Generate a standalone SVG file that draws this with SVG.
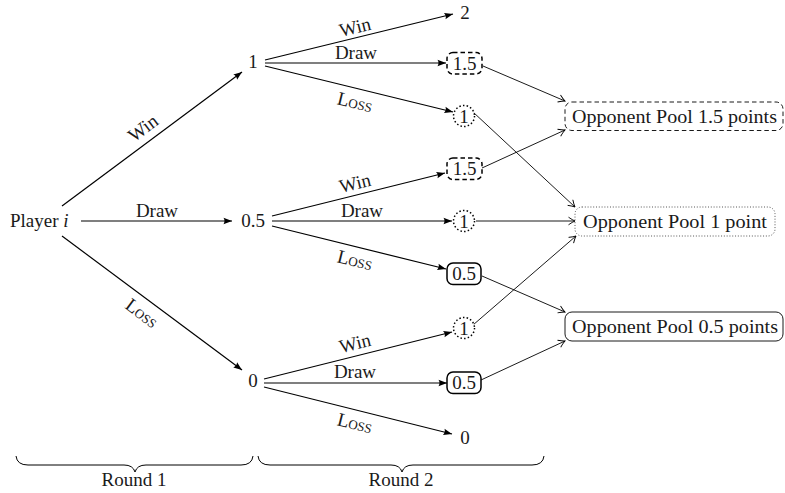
<svg xmlns="http://www.w3.org/2000/svg" width="785" height="493" viewBox="0 0 785 493">
<style>
.mid{text-anchor:middle}
.sc{font-variant:small-caps}
.tree{stroke:#000;stroke-width:1.2;fill:none;marker-end:url(#tri)}
.pool{stroke:#000;stroke-width:0.9;fill:none;marker-end:url(#to)}
.dash{stroke:#000;stroke-width:1.5;fill:#fff;stroke-dasharray:4.5 3}
.dot{stroke:#000;stroke-width:1.5;fill:#fff;stroke-dasharray:1.5 2.2}
.solid{stroke:#000;stroke-width:1.5;fill:#fff}
.pdash{stroke:#000;stroke-width:0.9;fill:#fff;stroke-dasharray:4.5 3}
.pdot{stroke:#444;stroke-width:0.9;fill:#fff;stroke-dasharray:1 1.8}
.psolid{stroke:#000;stroke-width:0.9;fill:#fff}
.brace{stroke:#000;stroke-width:1;fill:none}
</style>
<defs>
<marker id="tri" viewBox="-9 -4 10 8" refX="0" refY="0" markerWidth="10" markerHeight="8" markerUnits="userSpaceOnUse" orient="auto">
<path d="M0,0 L-8.5,-3.2 Q-6.5,0 -8.5,3.2 Z" fill="#000"/>
</marker>
<marker id="to" viewBox="-8 -5 9 10" refX="0" refY="0" markerWidth="9" markerHeight="10" markerUnits="userSpaceOnUse" orient="auto">
<path d="M-6.5,-3.8 Q-2.5,-1 0,0 Q-2.5,1 -6.5,3.8" fill="none" stroke="#000" stroke-width="0.9"/>
</marker>
</defs>

<g id="connectors">
<line class="tree" x1="62" y1="206" x2="242" y2="72"/>
<line class="tree" x1="81" y1="221" x2="232" y2="221"/>
<line class="tree" x1="62" y1="236" x2="242" y2="370"/>

<line class="tree" x1="265" y1="60" x2="453" y2="14"/>
<line class="tree" x1="265" y1="63" x2="446" y2="63"/>
<line class="tree" x1="265" y1="66" x2="453" y2="112"/>

<line class="tree" x1="272" y1="216" x2="445" y2="173"/>
<line class="tree" x1="272" y1="221" x2="452" y2="221"/>
<line class="tree" x1="272" y1="226" x2="446" y2="269"/>

<line class="tree" x1="264" y1="379" x2="452" y2="332"/>
<line class="tree" x1="264" y1="383" x2="447" y2="383"/>
<line class="tree" x1="264" y1="387" x2="452" y2="434"/>

<line class="pool" x1="483" y1="66" x2="565" y2="101"/>
<line class="pool" x1="482" y1="168" x2="565" y2="130"/>
<line class="pool" x1="473" y1="112" x2="575" y2="207"/>
<line class="pool" x1="476" y1="221" x2="575" y2="221"/>
<line class="pool" x1="482" y1="276" x2="565" y2="312"/>
<line class="pool" x1="473" y1="325" x2="576" y2="236"/>
<line class="pool" x1="481" y1="380" x2="565" y2="341"/>
</g>

<g id="edge-labels">
<g transform="translate(143,128) rotate(-36.7)"><text class="mid" font-family="Liberation Serif" font-size="19" fill="#1a1a1a" x="0" y="6.5">Win</text></g>
<text class="mid" font-family="Liberation Serif" font-size="19" fill="#1a1a1a" x="157" y="216.5">Draw</text>
<g transform="translate(142,313) rotate(36.7)"><text class="mid sc" font-family="Liberation Serif" font-size="19" fill="#1a1a1a" x="0" y="6.5">Loss</text></g>

<g transform="translate(355,27) rotate(-13.7)"><text class="mid" font-family="Liberation Serif" font-size="19" fill="#1a1a1a" x="0" y="6.5">Win</text></g>
<text class="mid" font-family="Liberation Serif" font-size="19" fill="#1a1a1a" x="356" y="58.5">Draw</text>
<g transform="translate(355,102) rotate(13.7)"><text class="mid sc" font-family="Liberation Serif" font-size="19" fill="#1a1a1a" x="0" y="6.5">Loss</text></g>

<g transform="translate(355,183) rotate(-13.8)"><text class="mid" font-family="Liberation Serif" font-size="19" fill="#1a1a1a" x="0" y="6.5">Win</text></g>
<text class="mid" font-family="Liberation Serif" font-size="19" fill="#1a1a1a" x="362" y="216.5">Draw</text>
<g transform="translate(355,260) rotate(13.8)"><text class="mid sc" font-family="Liberation Serif" font-size="19" fill="#1a1a1a" x="0" y="6.5">Loss</text></g>

<g transform="translate(355,343) rotate(-13.9)"><text class="mid" font-family="Liberation Serif" font-size="19" fill="#1a1a1a" x="0" y="6.5">Win</text></g>
<text class="mid" font-family="Liberation Serif" font-size="19" fill="#1a1a1a" x="355" y="377.5">Draw</text>
<g transform="translate(355,423) rotate(14)"><text class="mid sc" font-family="Liberation Serif" font-size="19" fill="#1a1a1a" x="0" y="6.5">Loss</text></g>
</g>

<g id="player"><text font-family="Liberation Serif" font-size="19" fill="#1a1a1a" x="10" y="227">Player <tspan font-style="italic">i</tspan></text></g>
<g id="r1-win"><text class="mid" font-family="Liberation Serif" font-size="19" fill="#1a1a1a" x="253" y="68">1</text></g>
<g id="r1-draw"><text class="mid" font-family="Liberation Serif" font-size="19" fill="#1a1a1a" x="253" y="227">0.5</text></g>
<g id="r1-loss"><text class="mid" font-family="Liberation Serif" font-size="19" fill="#1a1a1a" x="253" y="387">0</text></g>

<g id="n-2"><text class="mid" font-family="Liberation Serif" font-size="19" fill="#1a1a1a" x="465" y="19">2</text></g>
<g id="n-1-draw"><rect class="dash" x="447" y="52.5" width="35" height="21.5" rx="6"/><text class="mid" font-family="Liberation Serif" font-size="19" fill="#1a1a1a" x="464.5" y="69.5">1.5</text></g>
<g id="n-1-loss"><ellipse class="dot" cx="464" cy="116" rx="10.5" ry="10.5"/><text class="mid" font-family="Liberation Serif" font-size="19" fill="#1a1a1a" x="464" y="122.5">1</text></g>

<g id="n-05-win"><rect class="dash" x="447" y="158" width="35" height="21.5" rx="6"/><text class="mid" font-family="Liberation Serif" font-size="19" fill="#1a1a1a" x="464.5" y="175">1.5</text></g>
<g id="n-05-draw"><ellipse class="dot" cx="464" cy="221" rx="10.5" ry="10.5"/><text class="mid" font-family="Liberation Serif" font-size="19" fill="#1a1a1a" x="464" y="227.5">1</text></g>
<g id="n-05-loss"><rect class="solid" x="447" y="263" width="34" height="21.5" rx="6"/><text class="mid" font-family="Liberation Serif" font-size="19" fill="#1a1a1a" x="464" y="280">0.5</text></g>

<g id="n-0-win"><ellipse class="dot" cx="464" cy="328" rx="10.5" ry="10.5"/><text class="mid" font-family="Liberation Serif" font-size="19" fill="#1a1a1a" x="464" y="334.5">1</text></g>
<g id="n-0-draw"><rect class="solid" x="447" y="372" width="34" height="21.5" rx="6"/><text class="mid" font-family="Liberation Serif" font-size="19" fill="#1a1a1a" x="464" y="389">0.5</text></g>
<g id="n-0-loss"><text class="mid" font-family="Liberation Serif" font-size="19" fill="#1a1a1a" x="465" y="444">0</text></g>

<g id="pool-15"><rect class="pdash" x="565" y="102" width="218" height="28.5" rx="7"/><text font-family="Liberation Serif" font-size="19" fill="#1a1a1a" x="572" y="122.5" textLength="205" lengthAdjust="spacingAndGlyphs">Opponent Pool 1.5 points</text></g>
<g id="pool-1"><rect class="pdot" x="575" y="207" width="200" height="29" rx="7"/><text font-family="Liberation Serif" font-size="19" fill="#1a1a1a" x="583" y="227.5" textLength="184" lengthAdjust="spacingAndGlyphs">Opponent Pool 1 point</text></g>
<g id="pool-05"><rect class="psolid" x="565" y="312" width="218" height="29" rx="7"/><text font-family="Liberation Serif" font-size="19" fill="#1a1a1a" x="572" y="332.5" textLength="206" lengthAdjust="spacingAndGlyphs">Opponent Pool 0.5 points</text></g>

<g id="braces">
<path class="brace" d="M16,456 Q17,465 28,465 L124,465 Q133,465 135,472 Q137,465 146,465 L241,465 Q252,465 253,456"/>
<path class="brace" d="M258,456 Q259,465 270,465 L391,465 Q400,465 402,472 Q404,465 413,465 L532,465 Q543,465 544,456"/>
<text class="mid" font-family="Liberation Serif" font-size="19" fill="#1a1a1a" x="134" y="486">Round 1</text>
<text class="mid" font-family="Liberation Serif" font-size="19" fill="#1a1a1a" x="401" y="486">Round 2</text>
</g>
</svg>
